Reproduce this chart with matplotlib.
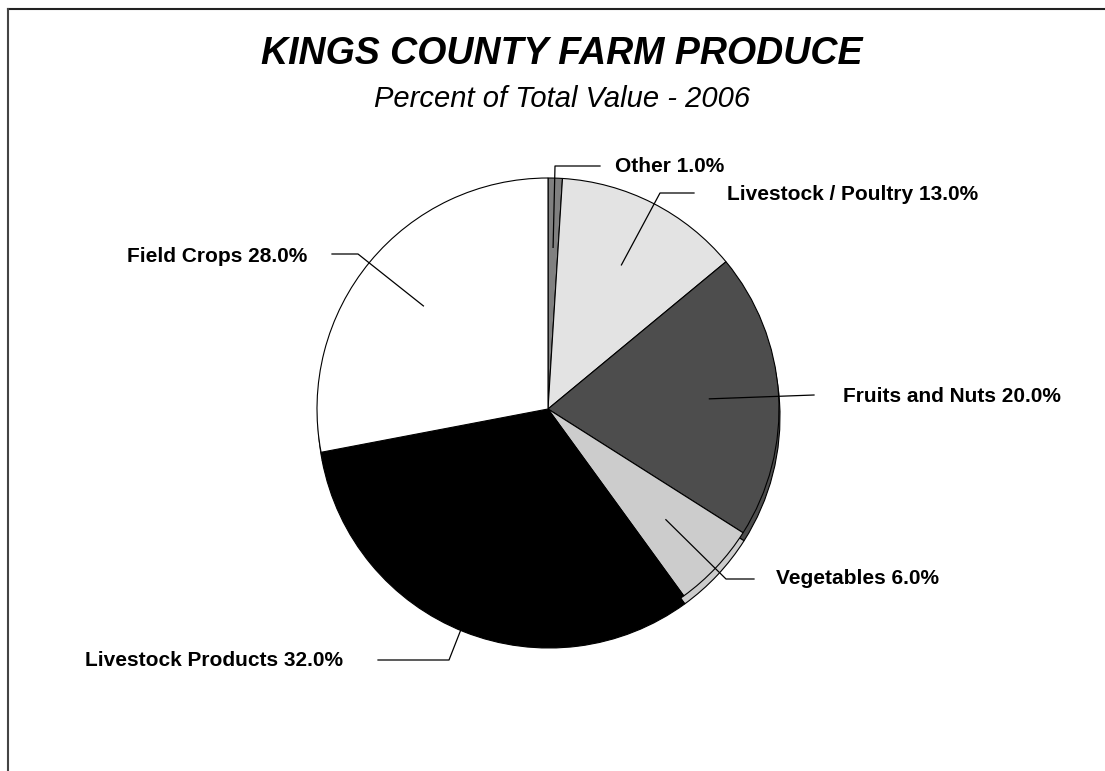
import numpy as np
import matplotlib.pyplot as plt
from matplotlib.lines import Line2D

plt.rcParams['font.family'] = ['Liberation Sans', 'DejaVu Sans']

# data
labels = ['Other', 'Livestock / Poultry', 'Fruits and Nuts', 'Vegetables',
          'Livestock Products', 'Field Crops']
percents = [1.0, 13.0, 20.0, 6.0, 32.0, 28.0]
colors = ['#808080', '#e3e3e3', '#4d4d4d', '#cccccc', '#000000', '#ffffff']

W, H = 1105, 771
fig = plt.figure(figsize=(W / 100, H / 100), dpi=100)
ax = fig.add_axes([0, 0, 1, 1])

# pie geometry in pixel units (y up)
cx, cy, R = 548, H - 409, 231
depth_dx, depth_dy = 1, -8
wp = dict(edgecolor='black', linewidth=0.8)

# side of the "3D" pie: same pie pushed down a little
ax.pie(percents, colors=colors, startangle=90, counterclock=False,
       radius=R, center=(cx + depth_dx, cy + depth_dy), wedgeprops=wp)
wedges, _ = ax.pie(percents, colors=colors, startangle=90, counterclock=False,
                   radius=R, center=(cx, cy), wedgeprops=wp)

# label layout in pixel coords (y from top): elbow, leader end, text x, text y, ha
layout = [
    [(555, 166), (600, 166), 615, 166, 'left'],
    [(660, 193), (694, 193), 727, 195, 'left'],
    [None, (814, 395), 843, 397, 'left'],
    [(726, 579), (754, 579), 776, 579, 'left'],
    [(449, 660), (378, 660), 343, 660, 'right'],
    [(358, 254), (332, 254), 307, 257, 'right'],
]

for w, lab, p, (elbow, end, tx, ty, ha) in zip(wedges, labels, percents, layout):
    mid = np.deg2rad((w.theta1 + w.theta2) / 2)
    ax0 = cx + 0.7 * R * np.cos(mid)
    ay0 = cy + 0.7 * R * np.sin(mid)
    xs, ys = [ax0], [ay0]
    if elbow is not None:
        xs.append(elbow[0]); ys.append(H - elbow[1])
    xs.append(end[0]); ys.append(H - end[1])
    ax.plot(xs, ys, color='black', lw=0.9, zorder=5)
    ax.text(tx, H - ty, f'{lab} {p:.1f}%', ha=ha, va='center',
            fontsize=15, fontweight='bold', zorder=6)

ax.set_xlim(0, W)
ax.set_ylim(0, H)
ax.set_aspect('equal')
ax.axis('off')

fig.text(562 / W, 1 - 64 / H, 'KINGS COUNTY FARM PRODUCE', ha='center', va='baseline',
         fontsize=27, fontweight='bold', fontstyle='italic')
fig.text(562 / W, 1 - 107 / H, 'Percent of Total Value - 2006', ha='center', va='baseline',
         fontsize=21, fontstyle='italic')

# partial frame (top and left edges)
fig.add_artist(Line2D([8 / W, 1], [1 - 9 / H, 1 - 9 / H], transform=fig.transFigure,
                      color='#222222', lw=1.5))
fig.add_artist(Line2D([8 / W, 8 / W], [0, 1 - 9 / H], transform=fig.transFigure,
                      color='#444444', lw=1.5))

fig.savefig('out.png', dpi=100)
